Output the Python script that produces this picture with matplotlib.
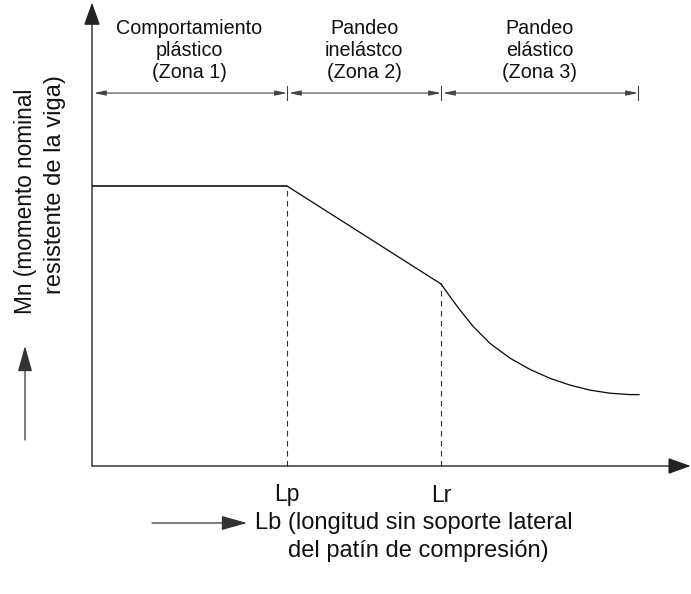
import matplotlib
matplotlib.use("Agg")
import matplotlib.pyplot as plt

plt.rcParams['font.family'] = ['Liberation Sans', 'DejaVu Sans']

# ---- data (normalised units: Lp = 1, Mp = 1) ----
Lp = 1.0
Lr = 1.79
L_end = 2.80
Mp = 1.0
Mr = 0.65

plastic_x = [0.0, Lp]
plastic_y = [Mp, Mp]
inelastic_x = [Lp, Lr]
inelastic_y = [Mp, Mr]
elastic_x = [1.79, 1.836, 1.887, 1.955, 2.041, 2.144, 2.246, 2.349, 2.451,
             2.554, 2.656, 2.759, 2.805]
elastic_y = [0.65, 0.605, 0.557, 0.498, 0.438, 0.385, 0.345, 0.313, 0.289,
             0.271, 0.260, 0.255, 0.255]

zone_bounds = [0.0, Lp, Lr, L_end]
zone_labels = ["Comportamiento\nplástico\n(Zona 1)",
               "Pandeo\ninelástco\n(Zona 2)",
               "Pandeo\nelástico\n(Zona 3)"]
tick_labels = ["Lp", "Lr"]
ylabel_lines = ["Mn (momento nominal", "resistente de la viga)"]
xlabel_lines = ["Lb (longitud sin soporte lateral", "del patín de compresión)"]

# ---- figure ----
fig = plt.figure(figsize=(6.91, 5.94), dpi=100)
ax = fig.add_axes([0, 0, 1, 1])
ax.set_xlim(-92 / 195, 599 / 195)
ax.set_ylim(-128 / 280, 466 / 280)
ax.axis('off')

axis_col = '#222222'
# axes with arrows
ax.annotate('', xy=(0, 1.655), xytext=(0, 0),
            arrowprops=dict(arrowstyle='-|>,head_length=1.4,head_width=0.5',
                            mutation_scale=10, lw=1.0, color=axis_col,
                            shrinkA=0, shrinkB=0))
ax.annotate('', xy=(3.07, 0), xytext=(0, 0),
            arrowprops=dict(arrowstyle='-|>,head_length=1.4,head_width=0.5',
                            mutation_scale=10, lw=1.0, color=axis_col,
                            shrinkA=0, shrinkB=0))

# curve
ax.plot(plastic_x, plastic_y, color='#111111', lw=1.2, solid_capstyle='butt')
ax.plot(inelastic_x, inelastic_y, color='#111111', lw=0.95)
ax.plot(elastic_x, elastic_y, color='#111111', lw=0.95)

# dashed verticals
ax.plot([Lp, Lp], [0, Mp], color='#333333', lw=0.8, ls=(0, (5, 4)))
ax.plot([Lr, Lr], [0, Mr], color='#333333', lw=0.8, ls=(0, (5, 4)))

# dimension line
ydim = 1.332
dim_col = '#444444'
for a, b in zip(zone_bounds[:-1], zone_bounds[1:]):
    ax.annotate('', xy=(b, ydim), xytext=(a + 0.01, ydim),
                arrowprops=dict(arrowstyle='<|-|>,head_length=0.7,head_width=0.15',
                                mutation_scale=10, lw=0.8, color=dim_col,
                                shrinkA=0, shrinkB=0))
for xb in zone_bounds[1:]:
    ax.plot([xb, xb], [ydim - 0.025, ydim + 0.025], color=dim_col, lw=0.8)

# zone labels
for a, b, lab in zip(zone_bounds[:-1], zone_bounds[1:], zone_labels):
    ax.text((a + b) / 2, (466 - 51) / 280, lab, ha='center', va='center',
            fontsize=14.2, linespacing=1.2, color='#111111')

# tick labels
for xv, lab in zip([Lp, Lr], tick_labels):
    ax.text(xv, (466 - 495) / 280, lab, ha='center', va='center',
            fontsize=16.5, color='#111111')

# y label
ax.text(-66 / 195, (466 - 201) / 280, ylabel_lines[0], rotation=90,
        ha='center', va='center', fontsize=16.3, color='#111111')
ax.text(-37 / 195, (466 - 185) / 280, ylabel_lines[1], rotation=90,
        ha='center', va='center', fontsize=17.0, color='#111111')
ax.annotate('', xy=(-67 / 195, (466 - 346) / 280), xytext=(-67 / 195, (466 - 440) / 280),
            arrowprops=dict(arrowstyle='-|>,head_length=1.6,head_width=0.45',
                            mutation_scale=10, lw=0.9, color='#333333',
                            shrinkA=0, shrinkB=0))

# x label
ax.annotate('', xy=(155 / 195, (466 - 523) / 280), xytext=(60 / 195, (466 - 523) / 280),
            arrowprops=dict(arrowstyle='-|>,head_length=1.6,head_width=0.45',
                            mutation_scale=10, lw=0.9, color='#333333',
                            shrinkA=0, shrinkB=0))
ax.text(163 / 195, (466 - 523) / 280, xlabel_lines[0], ha='left', va='center',
        fontsize=17, color='#111111')
ax.text(326 / 195, (466 - 551) / 280, xlabel_lines[1], ha='center', va='center',
        fontsize=17, color='#111111')

fig.savefig('out.png', dpi=100, facecolor='white')
